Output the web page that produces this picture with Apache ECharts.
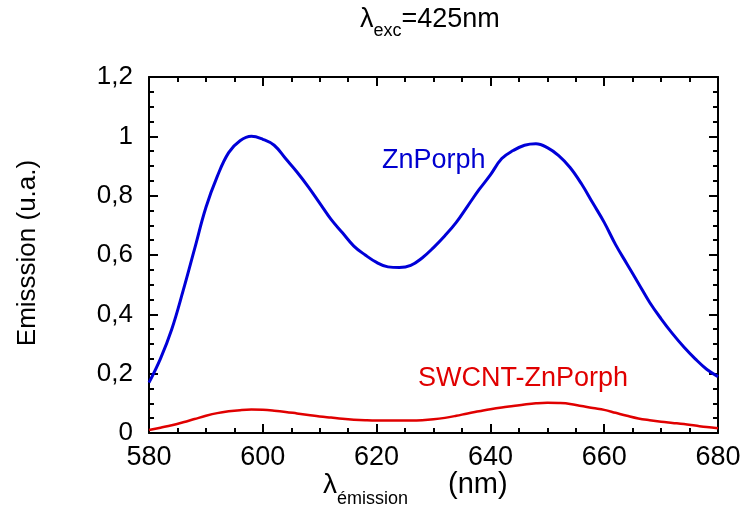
<!DOCTYPE html>
<html>
<head>
<meta charset="utf-8">
<script src="https://cdn.jsdelivr.net/npm/echarts@6/dist/echarts.min.js"></script>
<style>html,body{margin:0;padding:0;background:#fff}#c{width:744px;height:506px}</style>
</head>
<body>
<div id="c"></div>
<script>
var wavelengths = [580,582,584,586,588,590,592,594,596,598,600,602,604,606,608,610,612,614,616,618,620,622,624,626,628,630,632,634,636,638,640,642,644,646,648,650,652,654,656,658,660,662,664,666,668,670,672,674,676,678,680];
var znPorph = [0.17,0.25,0.35,0.48,0.62,0.76,0.865,0.945,0.985,1.0,0.99,0.97,0.925,0.88,0.83,0.775,0.72,0.675,0.63,0.6,0.575,0.56,0.558,0.565,0.59,0.625,0.665,0.71,0.765,0.82,0.87,0.925,0.952,0.97,0.975,0.962,0.935,0.895,0.84,0.775,0.71,0.635,0.57,0.505,0.44,0.385,0.335,0.29,0.25,0.215,0.19];
var swcntZnPorph = [0.01,0.018,0.026,0.036,0.047,0.058,0.067,0.073,0.077,0.079,0.078,0.075,0.071,0.066,0.061,0.056,0.052,0.048,0.045,0.043,0.042,0.042,0.042,0.042,0.043,0.046,0.051,0.058,0.066,0.073,0.08,0.086,0.091,0.096,0.1,0.102,0.101,0.098,0.091,0.084,0.078,0.068,0.058,0.049,0.043,0.038,0.034,0.03,0.025,0.02,0.016];
var xTicks = [580,600,620,640,660,680];
var yTicks = ['0','0,2','0,4','0,6','0,8','1','1,2'];

var FONT = '"Liberation Sans", Arial, sans-serif';
function pair(xs, ys){ return xs.map(function(x,i){ return [x, ys[i]]; }); }
function yFmt(v){ var i = Math.round(v/0.2); return yTicks[i] !== undefined ? yTicks[i] : ''; }

var axisCommon = {
  axisLine:{show:true, onZero:false, lineStyle:{color:'#000', width:2}},
  axisTick:{show:true, inside:true, length:9, lineStyle:{color:'#000', width:2}},
  minorTick:{show:true, splitNumber:4, length:5, lineStyle:{color:'#000', width:2}},
  splitLine:{show:false}
};

var chart = echarts.init(document.getElementById('c'), null, {renderer:'canvas'});
chart.setOption({
  backgroundColor:'#fff',
  animation:false,
  grid:{left:149, right:26, top:77, bottom:73, containLabel:false},
  xAxis:[
    Object.assign({type:'value', position:'bottom', min:580, max:680, interval:20,
      axisLabel:{show:true, margin:11, fontSize:27, color:'#000', fontFamily:FONT,
        formatter:function(v){ return xTicks.indexOf(v) >= 0 ? String(v) : ''; }}}, axisCommon),
    Object.assign({type:'value', position:'top', min:580, max:680, interval:20,
      axisLabel:{show:false}}, axisCommon)
  ],
  yAxis:[
    Object.assign({type:'value', position:'left', min:0, max:1.2, interval:0.2,
      axisLabel:{show:true, margin:16, fontSize:26, color:'#000', fontFamily:FONT, formatter:yFmt}}, axisCommon),
    Object.assign({type:'value', position:'right', min:0, max:1.2, interval:0.2,
      axisLabel:{show:false}}, axisCommon)
  ],
  series:[
    {name:'ZnPorph', type:'line', xAxisIndex:0, yAxisIndex:0, data:pair(wavelengths, znPorph),
     smooth:0.4, showSymbol:false, lineStyle:{color:'#0000d8', width:3}, z:3},
    {name:'SWCNT-ZnPorph', type:'line', xAxisIndex:0, yAxisIndex:0, data:pair(wavelengths, swcntZnPorph),
     smooth:0.4, showSymbol:false, lineStyle:{color:'#e00000', width:2.5}, z:3}
  ],
  graphic:[
    {type:'text', left:360, top:6, style:{
      text:'{l|λ}{s|exc}{l|=425nm}', fill:'#000',
      rich:{l:{fontSize:27, fontFamily:FONT, fill:'#000', verticalAlign:'bottom'},
            s:{fontSize:18, fontFamily:FONT, fill:'#000', verticalAlign:'bottom', padding:[0,0,-7,0]}}}},
    {type:'text', left:323, top:470, style:{
      text:'{l|λ}{s|émission}{n|(nm)}', fill:'#000',
      rich:{l:{fontSize:28, fontFamily:FONT, fill:'#000', verticalAlign:'bottom'},
            n:{fontSize:29, fontFamily:FONT, fill:'#000', verticalAlign:'bottom', padding:[0,0,0,40]},
            s:{fontSize:18, fontFamily:FONT, fill:'#000', verticalAlign:'bottom', padding:[0,0,-9,0]}}}},
    {type:'text', x:28, y:253, rotation:Math.PI/2, style:{
      text:'Emisssion (u.a.)', fontSize:26, fontFamily:FONT, fill:'#000', align:'center', verticalAlign:'middle'}},
    {type:'text', left:382, top:147, style:{text:'ZnPorph', fontSize:27, fontFamily:FONT, fill:'#0000d0'}},
    {type:'text', left:418, top:365, style:{text:'SWCNT-ZnPorph', fontSize:27, fontFamily:FONT, fill:'#e00000'}}
  ]
});
</script>
</body>
</html>
